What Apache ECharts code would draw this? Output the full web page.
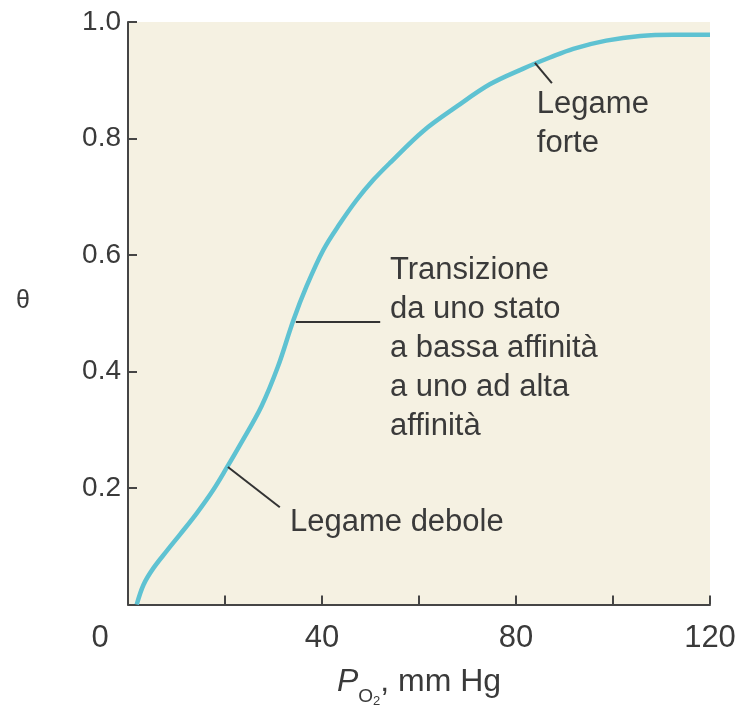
<!DOCTYPE html>
<html>
<head>
<meta charset="utf-8">
<script src="https://cdn.jsdelivr.net/npm/echarts@6/dist/echarts.min.js"></script>
<style>html,body{margin:0;padding:0;background:#fff}#c{width:740px;height:706px}</style>
</head>
<body>
<div id="c"></div>
<script>
// Oxygen partial pressure (mm Hg) and fractional saturation θ
var pO2 = [1.8, 3.2, 5.2, 8.0, 10.7, 14.2, 17.6, 20.3, 23.1, 27.5, 30.9, 34.1, 36.8, 40.3, 43.7, 47.1, 50.6, 54.0, 60.9, 67.8, 74.6, 81.5, 87.0, 91.8, 98.6, 105.6, 112.4, 120];
var theta = [0.0, 0.034, 0.062, 0.092, 0.120, 0.157, 0.197, 0.234, 0.274, 0.340, 0.408, 0.488, 0.546, 0.609, 0.654, 0.694, 0.729, 0.758, 0.813, 0.855, 0.893, 0.920, 0.939, 0.954, 0.968, 0.976, 0.978, 0.978];
var xTickLabels = [0, 40, 80, 120];
var yTickLabels = [0.2, 0.4, 0.6, 0.8, 1.0];
// annotations: [text, anchor P, anchor θ, elbow P, elbow θ, text P, text θ]
var annotations = [
  ['Legame debole', 20.6, 0.236, 31.3, 0.167, 33.4, 0.140],
  ['Transizione\nda uno stato\na bassa affinità\na uno ad alta\naffinità', 34.6, 0.485, 52.0, 0.485, 54.0, 0.439],
  ['Legame\nforte', 83.9, 0.930, 87.4, 0.895, 84.3, 0.825]
];

var chart = echarts.init(document.getElementById('c'));
var font = '"Liberation Sans", Arial, Helvetica, sans-serif';
var txt = '#3a3a3a';
var data = pO2.map(function (p, i) { return [p, theta[i]]; });

chart.setOption({
  backgroundColor: '#ffffff',
  animation: false,
  grid: { left: 128, right: 30, top: 22, bottom: 101.5, show: true, backgroundColor: '#f5f1e2', borderWidth: 0, containLabel: false, outerBoundsMode: 'none' },
  xAxis: {
    type: 'value', min: 0, max: 120, interval: 20,
    name: '{p|P}{s|O}{t|2}{n|, mm Hg}', nameLocation: 'middle', nameGap: 52,
    nameTextStyle: {
      rich: {
        p: { fontFamily: font, fontSize: 32, fontStyle: 'italic', color: txt },
        s: { fontFamily: font, fontSize: 19, color: txt, padding: [30, 0, 0, 0] },
        t: { fontFamily: font, fontSize: 13, color: txt, padding: [38, 0, 0, 0] },
        n: { fontFamily: font, fontSize: 32, color: txt }
      }
    },
    axisLine: { lineStyle: { color: '#454545', width: 2 } },
    axisTick: { inside: true, length: 9, lineStyle: { color: '#454545', width: 2 } },
    splitLine: { show: false },
    axisLabel: {
      margin: 18, fontFamily: font, fontSize: 31, color: txt,
      formatter: function (v) {
        if (xTickLabels.indexOf(v) < 0) return '';
        return v === 0 ? '{o|0}' : String(v);
      },
      rich: { o: { fontFamily: font, fontSize: 31, color: txt, padding: [0, 56, 0, 0] } }
    }
  },
  yAxis: {
    type: 'value', min: 0, max: 1, interval: 0.2,
    name: 'θ', nameLocation: 'middle', nameRotate: 0, nameGap: 98,
    nameTextStyle: { fontFamily: font, fontSize: 25, color: txt, verticalAlign: 'bottom' },
    axisLine: { show: true, lineStyle: { color: '#454545', width: 2 } },
    axisTick: { show: true, inside: true, length: 9, lineStyle: { color: '#454545', width: 2 } },
    splitLine: { show: false },
    axisLabel: {
      margin: 7, fontFamily: font, fontSize: 28, color: txt,
      formatter: function (v) {
        var r = Math.round(v * 10) / 10;
        return yTickLabels.indexOf(r) < 0 ? '' : r.toFixed(1);
      }
    }
  },
  series: [{
    type: 'line', data: data, smooth: 0.35, symbol: 'none',
    lineStyle: { color: '#5ec2d2', width: 4.5 },
    markLine: {
      silent: true, symbol: 'none',
      lineStyle: { color: '#333', width: 2, type: 'solid' },
      label: { show: false },
      data: annotations.map(function (a) { return [{ coord: [a[1], a[2]] }, { coord: [a[3], a[4]] }]; })
    },
    markPoint: {
      silent: true, symbol: 'circle', symbolSize: 0,
      label: {
        show: true, position: 'right', distance: 0, align: 'left',
        fontFamily: font, fontSize: 31, lineHeight: 39, color: txt,
        formatter: function (p) { return p.name; }
      },
      data: annotations.map(function (a) { return { name: a[0], coord: [a[5], a[6]] }; })
    }
  }]
});
</script>
</body>
</html>
